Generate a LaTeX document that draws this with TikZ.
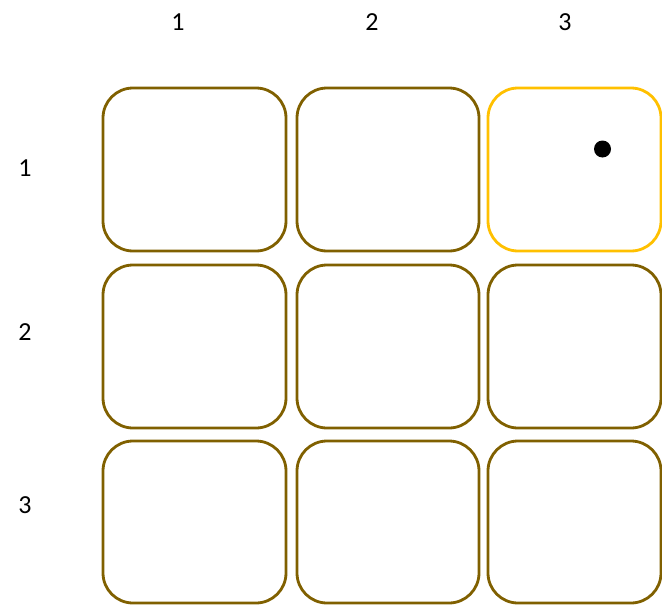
\documentclass[tikz,border=0pt]{standalone}
\usepackage{fontspec}
\setmainfont{Carlito}
\definecolor{boxgold}{RGB}{128,96,0}
\definecolor{boxyellow}{RGB}{255,192,0}
\begin{document}
\begin{tikzpicture}[x=1pt,y=-1pt,
  cell/.style={draw=boxgold,line width=2.8pt,rounded corners=30pt,inner sep=0pt},
  hilite/.style={draw=boxyellow},
  lab/.style={font=\fontsize{26}{30}\selectfont,inner sep=0pt}]
\useasboundingbox (0,0) rectangle (662,605);
\clip (0,0) rectangle (662,605);
% boxes: columns x-ranges, rows y-ranges
\draw[cell] (103,88) rectangle (286,251);
\draw[cell] (297,88) rectangle (479,251);
\draw[cell,hilite] (488,88) rectangle (661,251);
\draw[cell] (103,265) rectangle (286,428);
\draw[cell] (297,265) rectangle (479,428);
\draw[cell] (488,265) rectangle (661,428);
\draw[cell] (103,441) rectangle (286,603);
\draw[cell] (297,441) rectangle (479,603);
\draw[cell] (488,441) rectangle (661,603);
\fill[black] (602.5,149) circle (8.5);
% labels
\node[lab] (c1) at (178,22) {1};
\node[lab] (c2) at (372,22) {2};
\node[lab] (c3) at (565,22) {3};
\node[lab] (r1) at (25,168) {1};
\node[lab] (r2) at (25,332) {2};
\node[lab] (r3) at (25,505) {3};
\end{tikzpicture}
\end{document}
